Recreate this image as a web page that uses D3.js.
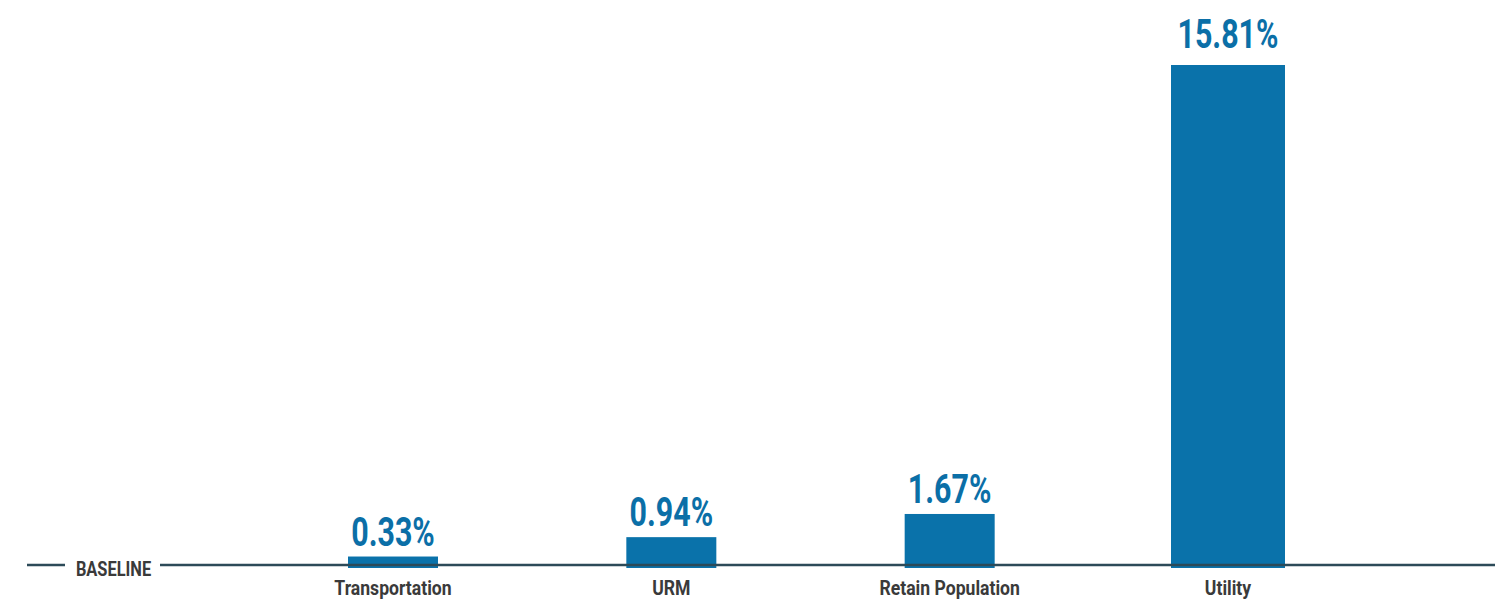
<!DOCTYPE html>
<html>
<head>
<meta charset="utf-8">
<script src="https://cdn.jsdelivr.net/npm/d3@7"></script>
<style>
  html, body { margin: 0; padding: 0; background: #fff; }
  svg { display: block; }
</style>
</head>
<body>
<svg id="chart" width="1495" height="604"></svg>
<script>
const categories = ["Transportation", "URM", "Retain Population", "Utility"];
const values = [0.33, 0.94, 1.67, 15.81];
const valueLabels = ["0.33%", "0.94%", "1.67%", "15.81%"];
const baselineLabel = "BASELINE";

const W = 1495, H = 604;
const svg = d3.select("#chart");

const barColor = "#0a72aa";
const labelColor = "#0b6fa7";
const lineColor = "#2c4a58";
const textColor = "#3a3a3a";

const x = d3.scalePoint().domain(categories).range([393, 1228]);
const y = d3.scaleLinear().domain([0, 15.81]).range([567, 65]);

const barW = (d, i) => (i === categories.length - 1 ? 114 : 90);

// bars
svg.append("g").selectAll("rect")
  .data(categories)
  .join("rect")
  .attr("x", (d, i) => x(d) - barW(d, i) / 2)
  .attr("width", (d, i) => barW(d, i))
  .attr("y", (d, i) => y(values[i]))
  .attr("height", (d, i) => y(0) - y(values[i]) + 1)
  .attr("fill", barColor);

// baseline
const baseY = 565;
svg.append("line").attr("x1", 27).attr("x2", 65).attr("y1", baseY).attr("y2", baseY)
  .attr("stroke", lineColor).attr("stroke-width", 2.5);
svg.append("line").attr("x1", 160).attr("x2", W).attr("y1", baseY).attr("y2", baseY)
  .attr("stroke", lineColor).attr("stroke-width", 2.5);

svg.append("g").attr("transform", `translate(113.5,576) scale(0.8,1)`)
  .append("text")
  .attr("text-anchor", "middle")
  .attr("font-family", "Roboto, sans-serif")
  .attr("font-weight", 700)
  .attr("font-size", 20.5)
  .attr("fill", textColor)
  .text(baselineLabel);

// category labels
svg.append("g").selectAll("g")
  .data(categories)
  .join("g")
  .attr("transform", d => `translate(${x(d)},595) scale(0.88,1)`)
  .append("text")
  .attr("text-anchor", "middle")
  .attr("font-family", "Roboto, sans-serif")
  .attr("font-weight", 700)
  .attr("font-size", 20)
  .attr("fill", textColor)
  .text(d => d);

// value labels
svg.append("g").selectAll("g")
  .data(categories)
  .join("g")
  .attr("transform", (d, i) => `translate(${x(d)},${y(values[i]) - (i === 3 ? 17 : 11)}) scale(0.76,1)`)
  .append("text")
  .attr("text-anchor", "middle")
  .attr("font-family", "Roboto, sans-serif")
  .attr("font-weight", 700)
  .attr("font-size", 40)
  .attr("fill", labelColor)
  .text((d, i) => valueLabels[i]);
</script>
</body>
</html>
